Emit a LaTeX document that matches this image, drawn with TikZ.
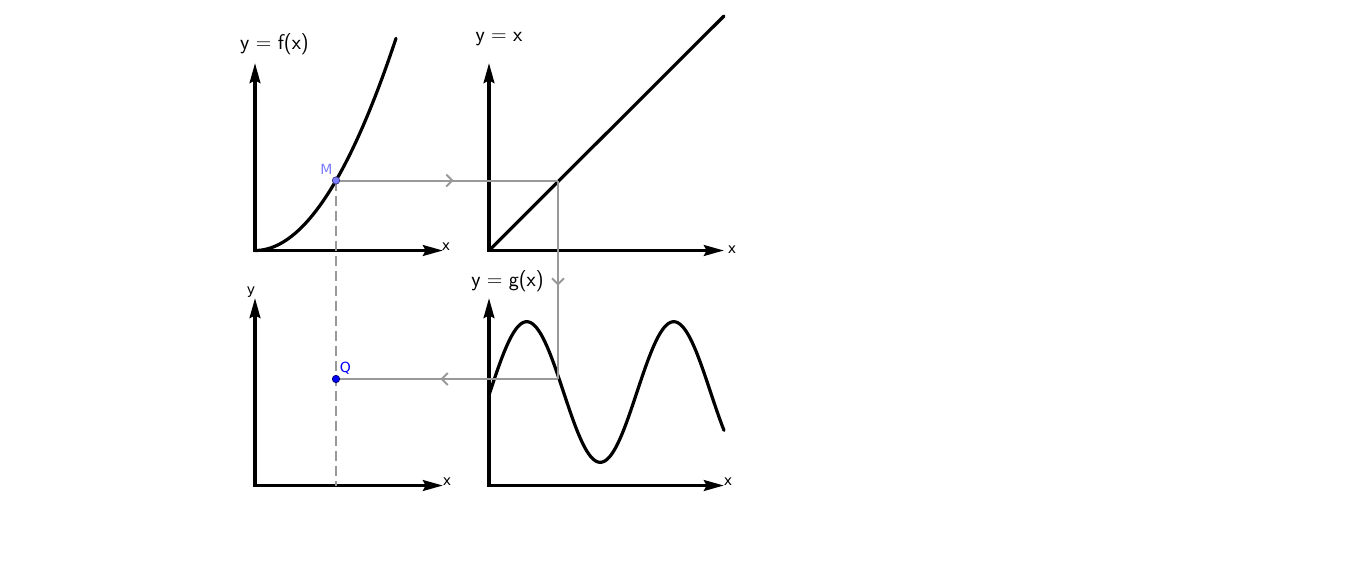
\documentclass[tikz,border=0pt]{standalone}
\usepackage{fontspec}
\newfontfamily\dv{DejaVu Sans}
\usetikzlibrary{arrows.meta,decorations.markings}
\definecolor{lgray}{RGB}{153,153,153}
\definecolor{mblue}{RGB}{125,125,255}
\definecolor{mdark}{RGB}{60,60,140}
\definecolor{qblue}{RGB}{0,0,255}
\definecolor{qdark}{RGB}{0,0,110}
\newcommand{\eqsp}{\hspace{0.3em}=\hspace{0.3em}}
\begin{document}
\begin{tikzpicture}[x=0.75pt,y=-0.75pt,
  axisline/.style={line width=2.6pt,line join=miter,
    {Stealth[length=15pt,width=8pt,inset=2pt]}-{Stealth[length=15pt,width=8pt,inset=2pt]}},
  graphline/.style={line width=2.4pt,line cap=round},
  guideline/.style={lgray,line width=1.5pt,postaction={decorate},
    decoration={markings,mark=at position 0.53 with {\arrow[lgray]{Straight Barb[length=4.5pt,width=9pt,line width=1.5pt]}}}},
  dashguide/.style={lgray,line width=1.5pt,dash pattern=on 7.5pt off 3.75pt},
  biglabel/.style={inner sep=0pt,font=\sffamily\fontsize{16}{19}\selectfont},
  axlabel/.style={inner sep=0pt,font=\dv\fontsize{10.5}{12}\selectfont},
  mpoint/.style={circle,fill=mblue,draw=mdark,line width=0.6pt,inner sep=0pt,minimum size=5.5pt},
  qpoint/.style={circle,fill=qblue,draw=qdark,line width=0.6pt,inner sep=0pt,minimum size=5.5pt}
]
\path[use as bounding box] (0,0) rectangle (1368,572);
% axes coordinates
\coordinate (O1) at (255,250.5); \coordinate (Y1) at (255,63);  \coordinate (X1) at (443,250.5);
\coordinate (O2) at (489,250.5); \coordinate (Y2) at (489,63);  \coordinate (X2) at (724,250.5);
\coordinate (O3) at (255,485.5); \coordinate (Y3) at (255,298); \coordinate (X3) at (443,485.5);
\coordinate (O4) at (489,485.5); \coordinate (Y4) at (489,298); \coordinate (X4) at (724,485.5);
\draw[axisline] (Y1) -- (O1) -- (X1);
\draw[axisline] (Y2) -- (O2) -- (X2);
\draw[axisline] (Y3) -- (O3) -- (X3);
\draw[axisline] (Y4) -- (O4) -- (X4);
% graphs
\draw[graphline] plot[domain=255:396,samples=120] (\x,{250.5-(0.1033*(\x-255))^2});
\coordinate (D) at (724,16);
\draw[graphline] (O2) -- (D);
\draw[graphline] plot[domain=489:724,samples=200] (\x,{392-70.3*sin(2.44898*(\x-490))});
% guide coordinates
\coordinate (m) at (336,180.5);
\coordinate (p) at (558,180.5);
\coordinate (r) at (558,379);
\coordinate (q) at (336,379);
\coordinate (mb) at (336,485.5);
\draw[dashguide] (m) -- (mb);
\draw[guideline] (m) -- (p);
\draw[guideline] (p) -- (r);
\draw[guideline] (r) -- (q);
% points
\node[mpoint] (M) at (m) {};
\node[qpoint] (Q) at (q) {};
\node[axlabel,text=mblue] (Mlab) at (326.5,169) {M};
\node[axlabel,text=qblue] (Qlab) at (345.5,368) {Q};
% labels
\node[biglabel] (lf) at (274.5,44) {y\eqsp f(x)};
\node[biglabel] (lx) at (499,39.5) {y\eqsp x};
\node[biglabel] (lg) at (507.5,281) {y\eqsp g(x)};
\node[axlabel] (x1) at (446,247) {x};
\node[axlabel] (x2) at (732,250) {x};
\node[axlabel] (x3) at (447,482) {x};
\node[axlabel] (x4) at (728,482) {x};
\node[axlabel] (y3) at (251,292) {y};
\end{tikzpicture}
\end{document}
